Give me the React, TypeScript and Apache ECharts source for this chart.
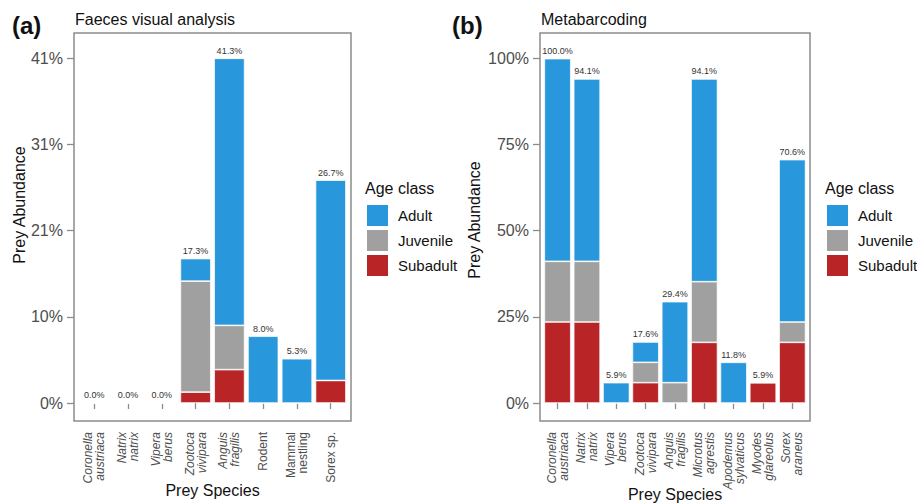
import React, { useEffect, useRef } from "react";
import * as echarts from "echarts";

const leftCategories = [
  "Coronella\naustriaca",
  "Natrix\nnatrix",
  "Vipera\nberus",
  "Zootoca\nvivipara",
  "Anguis\nfragilis",
  "Rodent",
  "Mammal\nnestling",
  "Sorex sp.",
];
const leftItalic = [true, true, true, true, true, false, false, false];
const leftSubadult = [0, 0, 0, 1.3, 4.0, 0, 0, 2.7];
const leftJuvenile = [0, 0, 0, 13.3, 5.3, 0, 0, 0];
const leftAdult = [0, 0, 0, 2.7, 32.0, 8.0, 5.3, 24.0];
const leftTotals = ["0.0%", "0.0%", "0.0%", "17.3%", "41.3%", "8.0%", "5.3%", "26.7%"];
const leftTickLabels = ["0%", "10%", "21%", "31%", "41%"];
const leftMax = 41.3;

const rightCategories = [
  "Coronella\naustriaca",
  "Natrix\nnatrix",
  "Vipera\nberus",
  "Zootoca\nvivipara",
  "Anguis\nfragilis",
  "Microtus\nagrestis",
  "Apodemus\nsylvaticus",
  "Myodes\nglareolus",
  "Sorex\naraneus",
];
const rightItalic = [true, true, true, true, true, true, true, true, true];
const rightSubadult = [23.5, 23.5, 0, 5.9, 0, 17.6, 0, 5.9, 17.6];
const rightJuvenile = [17.6, 17.6, 0, 5.9, 5.9, 17.6, 0, 0, 5.9];
const rightAdult = [58.8, 52.9, 5.9, 5.9, 23.5, 58.8, 11.8, 0, 47.1];
const rightTotals = ["100.0%", "94.1%", "5.9%", "17.6%", "29.4%", "94.1%", "11.8%", "5.9%", "70.6%"];
const rightTickLabels = ["0%", "25%", "50%", "75%", "100%"];
const rightMax = 100;

const ageClasses = ["Adult", "Juvenile", "Subadult"];
const colors: Record<string, string> = {
  Adult: "#2897dc",
  Juvenile: "#a0a0a0",
  Subadult: "#b92427",
};

const FONT = "'Liberation Sans', Arial, sans-serif";
const FRAME = "#8c8c8c";
const TICKTXT = "#4d4d4d";

function makeFormatter(cats: string[], italic: boolean[]) {
  return (v: string) => {
    const i = cats.indexOf(v);
    const lines = v.split("\n");
    const key = i >= 0 && italic[i] ? "i" : "n";
    return lines.map((s) => `{${key}|${s}}`).join("\n");
  };
}

export default function App() {
  const ref = useRef<HTMLDivElement>(null);
  useEffect(() => {
    if (!ref.current) return;
    const chart = echarts.init(ref.current, null, { renderer: "svg" });

    const panels = [
      {
        frame: { x: 74, y: 33, w: 277, h: 388 },
        grid: { left: 77.4, top: 58.3, width: 270.2, height: 344.7 },
        cats: leftCategories,
        italic: leftItalic,
        sub: leftSubadult,
        juv: leftJuvenile,
        ad: leftAdult,
        totals: leftTotals,
        ticks: leftTickLabels,
        max: leftMax,
        yOffset: 3.4,
      },
      {
        frame: { x: 540, y: 33, w: 270, h: 388 },
        grid: { left: 542.9, top: 58.3, width: 264.1, height: 344.7 },
        cats: rightCategories,
        italic: rightItalic,
        sub: rightSubadult,
        juv: rightJuvenile,
        ad: rightAdult,
        totals: rightTotals,
        ticks: rightTickLabels,
        max: rightMax,
        yOffset: 2.9,
      },
    ];

    const grids: any[] = [];
    const xAxes: any[] = [];
    const yAxes: any[] = [];
    const series: any[] = [];

    panels.forEach((p, pi) => {
      grids.push({ ...p.grid, containLabel: false });
      xAxes.push({
        type: "category",
        gridIndex: pi,
        data: p.cats,
        offset: 18,
        axisLine: { show: false },
        axisTick: { show: true, alignWithLabel: true, length: 6, lineStyle: { color: FRAME, width: 1.3 } },
        axisLabel: {
          rotate: 90,
          margin: 11,
          interval: 0,
          formatter: makeFormatter(p.cats, p.italic),
          rich: {
            i: { fontStyle: "italic", fontSize: 12, lineHeight: 12, color: TICKTXT, fontFamily: FONT },
            n: { fontStyle: "normal", fontSize: 12, lineHeight: 12, color: TICKTXT, fontFamily: FONT },
          },
        },
      });
      yAxes.push({
        type: "value",
        gridIndex: pi,
        min: 0,
        max: p.max,
        interval: p.max / 4,
        offset: p.yOffset,
        splitLine: { show: false },
        axisLine: { show: false },
        axisTick: { show: true, length: 7, lineStyle: { color: FRAME, width: 1.3 } },
        axisLabel: {
          margin: 11,
          fontSize: 16,
          color: TICKTXT,
          fontFamily: FONT,
          formatter: (v: number, idx: number) => p.ticks[idx] ?? `${Math.round(v)}%`,
        },
      });
      const base = {
        type: "bar",
        xAxisIndex: pi,
        yAxisIndex: pi,
        stack: "s" + pi,
        barCategoryGap: "10%",
      };
      series.push({
        ...base,
        name: "Subadult",
        data: p.sub,
        itemStyle: { color: colors.Subadult, borderColor: "#ffffff", borderWidth: 0.7 },
      });
      series.push({
        ...base,
        name: "Juvenile",
        data: p.juv,
        itemStyle: { color: colors.Juvenile, borderColor: "#ffffff", borderWidth: 0.7 },
      });
      series.push({
        ...base,
        name: "Adult",
        data: p.ad,
        itemStyle: { color: colors.Adult, borderColor: "#ffffff", borderWidth: 0.7 },
        label: {
          show: true,
          position: "top",
          distance: 3,
          fontSize: 9,
          color: "#333333",
          fontFamily: FONT,
          formatter: (q: any) => p.totals[q.dataIndex],
        },
      });
    });

    const graphic: any[] = [];
    panels.forEach((p) => {
      graphic.push({
        type: "rect",
        shape: { x: p.frame.x, y: p.frame.y, width: p.frame.w, height: p.frame.h },
        style: { fill: "none", stroke: FRAME, lineWidth: 1.5 },
        z: 10,
      });
    });
    const texts = [
      { x: 12, y: 25, text: "(a)", size: 24, weight: "bold" },
      { x: 452, y: 25, text: "(b)", size: 24, weight: "bold" },
      { x: 75, y: 19, text: "Faeces visual analysis", size: 16, weight: "normal" },
      { x: 541, y: 19, text: "Metabarcoding", size: 16, weight: "normal" },
      { x: 365, y: 188, text: "Age class", size: 16, weight: "normal" },
      { x: 825, y: 188, text: "Age class", size: 16, weight: "normal" },
    ];
    texts.forEach((t) => {
      graphic.push({
        type: "text",
        x: t.x,
        y: t.y,
        style: {
          text: t.text,
          fontSize: t.size,
          fontWeight: t.weight,
          fontFamily: FONT,
          fill: "#111111",
          align: "left",
          verticalAlign: "middle",
        },
      });
    });
    [
      { x: 212.5, y: 490 },
      { x: 675, y: 494 },
    ].forEach((t) => {
      graphic.push({
        type: "text",
        x: t.x,
        y: t.y,
        style: { text: "Prey Species", fontSize: 16, fontFamily: FONT, fill: "#111111", align: "center", verticalAlign: "middle" },
      });
    });
    [
      { x: 19, y: 205 },
      { x: 474, y: 220 },
    ].forEach((t) => {
      graphic.push({
        type: "text",
        x: t.x,
        y: t.y,
        rotation: Math.PI / 2,
        style: { text: "Prey Abundance", fontSize: 16, fontFamily: FONT, fill: "#111111", align: "center", verticalAlign: "middle" },
      });
    });

    const legendBase = {
      orient: "vertical",
      top: 203,
      itemWidth: 23,
      itemHeight: 23,
      itemGap: 0,
      padding: 0,
      icon: "rect",
      data: ageClasses,
      selectedMode: false,
      textStyle: { fontSize: 15, color: "#111111", fontFamily: FONT, padding: [0, 0, 0, 4] },
    };

    chart.setOption({
      animation: false,
      textStyle: { fontFamily: FONT },
      grid: grids,
      xAxis: xAxes,
      yAxis: yAxes,
      series,
      legend: [
        { ...legendBase, left: 365 },
        { ...legendBase, left: 825 },
      ],
      graphic,
    });
    return () => chart.dispose();
  }, []);

  return (
    <div
      ref={ref}
      style={{ position: "fixed", left: 0, top: 0, width: 917, height: 503, background: "#ffffff" }}
    />
  );
}
